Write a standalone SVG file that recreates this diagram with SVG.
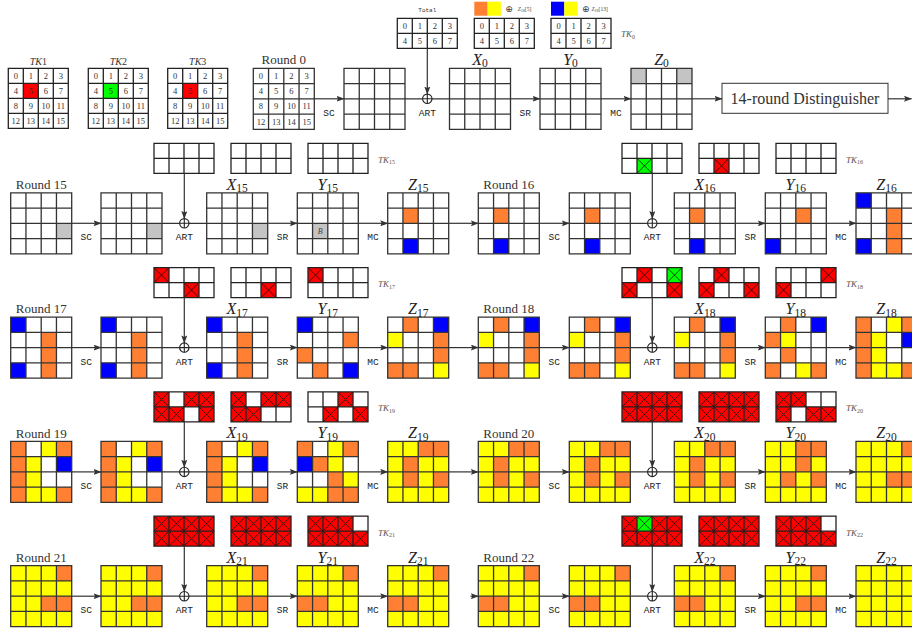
<svg xmlns="http://www.w3.org/2000/svg" width="912" height="630" viewBox="0 0 912 630">
<style>
.n{font-family:"Liberation Serif",serif;font-size:8.5px;fill:#333;text-anchor:middle}
.t{font-family:"Liberation Mono",monospace;font-size:9.5px;fill:#222;text-anchor:middle}
.rl{font-family:"Liberation Serif",serif;font-size:13px;fill:#333;text-anchor:middle}
.v{font-family:"Liberation Serif",serif;font-size:16px;font-style:italic;fill:#222;text-anchor:middle}
.v tspan{font-style:normal;font-size:11.5px}
.tk{font-family:"Liberation Serif",serif;font-size:9px;font-style:italic;fill:#555}
.tk tspan{font-style:normal;font-size:6px}
.tl{font-family:"Liberation Serif",serif;font-size:10px;fill:#333;text-anchor:middle}
.bl{font-family:"Liberation Serif",serif;font-size:8px;font-style:italic;fill:#444;text-anchor:middle}
.sm{font-family:"Liberation Serif",serif;font-size:5.5px;fill:#444}
.ln{fill:none;stroke:#333;stroke-width:1.2}
.ar{marker-end:url(#ah)}
</style>
<defs>
<marker id="ah" markerWidth="8" markerHeight="6" refX="7.5" refY="3" orient="auto" markerUnits="userSpaceOnUse"><path d="M0 0L8 3L0 6L1.5 3z" fill="#333"/></marker>
<rect id="O" width="15.25" height="15.25" fill="#FF8033"/>
<rect id="Y" width="15.25" height="15.25" fill="#FFFF00"/>
<rect id="B" width="15.25" height="15.25" fill="#0000FF"/>
<rect id="G" width="15.25" height="15.25" fill="#C4C4C4"/>
<rect id="BY" width="61" height="61" fill="#FFFF00"/>
<rect id="KW" width="15" height="15" fill="#fff"/>
<g id="KR"><rect width="15" height="15" fill="#FF0000"/><path d="M0 0L15 15M15 0L0 15" stroke="#111" stroke-width=".8"/></g>
<g id="KG"><rect width="15" height="15" fill="#00FF00"/><path d="M0 0L15 15M15 0L0 15" stroke="#111" stroke-width=".8"/></g>
<g id="KA"><rect width="60" height="30" fill="#FF0000"/><path d="M0 0L15 15M15 0L0 15M15 0L30 15M30 0L15 15M30 0L45 15M45 0L30 15M45 0L60 15M60 0L45 15M0 15L15 30M15 15L0 30M15 15L30 30M30 15L15 30M30 15L45 30M45 15L30 30M45 15L60 30M60 15L45 30" stroke="#111" stroke-width=".8"/></g>
<path id="g4" d="M0 0H61V61H0ZM15.25 0V61M30.5 0V61M45.75 0V61M0 15.25H61M0 30.5H61M0 45.75H61" fill="none" stroke="#333" stroke-width="1.3"/>
<path id="g60" d="M0 0H60V60H0ZM15 0V60M30 0V60M45 0V60M0 15H60M0 30H60M0 45H60" fill="none" stroke="#222" stroke-width="1.3"/>
<path id="gk" d="M0 0H60V30H0ZM15 0V30M30 0V30M45 0V30M0 15H60" fill="none" stroke="#222" stroke-width="1.3"/>
<g id="xor"><circle r="4.7" fill="#fff" stroke="#222" stroke-width="1.1"/><path d="M-4.7 0H4.7M0 -4.7V4.7" stroke="#222" stroke-width="1.1"/></g>
</defs>
<rect width="912" height="630" fill="#fff"/>

<!-- ROW 0 -->
<g id="tk1" transform="translate(8.3,68.3)"><rect x="15" y="15" width="15" height="15" fill="#FF0000"/><use href="#g60"/>
<text class="tl" x="30" y="-3.3"><tspan font-style="italic">TK</tspan>1</text>
<text class="n" x="7.5" y="10.5">0</text><text class="n" x="22.5" y="10.5">1</text><text class="n" x="37.5" y="10.5">2</text><text class="n" x="52.5" y="10.5">3</text>
<text class="n" x="7.5" y="25.5">4</text><text class="n" x="22.5" y="25.5">5</text><text class="n" x="37.5" y="25.5">6</text><text class="n" x="52.5" y="25.5">7</text>
<text class="n" x="7.5" y="40.5">8</text><text class="n" x="22.5" y="40.5">9</text><text class="n" x="37.5" y="40.5">10</text><text class="n" x="52.5" y="40.5">11</text>
<text class="n" x="7.5" y="55.5">12</text><text class="n" x="22.5" y="55.5">13</text><text class="n" x="37.5" y="55.5">14</text><text class="n" x="52.5" y="55.5">15</text></g>
<g id="tk2" transform="translate(88.3,68.3)"><rect x="15" y="15" width="15" height="15" fill="#00FF00"/><use href="#g60"/>
<text class="tl" x="30" y="-3.3"><tspan font-style="italic">TK</tspan>2</text>
<text class="n" x="7.5" y="10.5">0</text><text class="n" x="22.5" y="10.5">1</text><text class="n" x="37.5" y="10.5">2</text><text class="n" x="52.5" y="10.5">3</text>
<text class="n" x="7.5" y="25.5">4</text><text class="n" x="22.5" y="25.5">5</text><text class="n" x="37.5" y="25.5">6</text><text class="n" x="52.5" y="25.5">7</text>
<text class="n" x="7.5" y="40.5">8</text><text class="n" x="22.5" y="40.5">9</text><text class="n" x="37.5" y="40.5">10</text><text class="n" x="52.5" y="40.5">11</text>
<text class="n" x="7.5" y="55.5">12</text><text class="n" x="22.5" y="55.5">13</text><text class="n" x="37.5" y="55.5">14</text><text class="n" x="52.5" y="55.5">15</text></g>
<g id="tk3" transform="translate(167.7,68.3)"><rect x="15" y="15" width="15" height="15" fill="#FF0000"/><use href="#g60"/>
<text class="tl" x="30" y="-3.3"><tspan font-style="italic">TK</tspan>3</text>
<text class="n" x="7.5" y="10.5">0</text><text class="n" x="22.5" y="10.5">1</text><text class="n" x="37.5" y="10.5">2</text><text class="n" x="52.5" y="10.5">3</text>
<text class="n" x="7.5" y="25.5">4</text><text class="n" x="22.5" y="25.5">5</text><text class="n" x="37.5" y="25.5">6</text><text class="n" x="52.5" y="25.5">7</text>
<text class="n" x="7.5" y="40.5">8</text><text class="n" x="22.5" y="40.5">9</text><text class="n" x="37.5" y="40.5">10</text><text class="n" x="52.5" y="40.5">11</text>
<text class="n" x="7.5" y="55.5">12</text><text class="n" x="22.5" y="55.5">13</text><text class="n" x="37.5" y="55.5">14</text><text class="n" x="52.5" y="55.5">15</text></g>
<g id="r0" transform="translate(253.3,68.3)"><use href="#g4"/>
<text class="rl" x="30.5" y="-4">Round 0</text>
<text class="n" x="7.6" y="10.6">0</text><text class="n" x="22.9" y="10.6">1</text><text class="n" x="38.1" y="10.6">2</text><text class="n" x="53.4" y="10.6">3</text>
<text class="n" x="7.6" y="25.9">4</text><text class="n" x="22.9" y="25.9">5</text><text class="n" x="38.1" y="25.9">6</text><text class="n" x="53.4" y="25.9">7</text>
<text class="n" x="7.6" y="41.1">8</text><text class="n" x="22.9" y="41.1">9</text><text class="n" x="38.1" y="41.1">10</text><text class="n" x="53.4" y="41.1">11</text>
<text class="n" x="7.6" y="56.4">12</text><text class="n" x="22.9" y="56.4">13</text><text class="n" x="38.1" y="56.4">14</text><text class="n" x="53.4" y="56.4">15</text></g>
<g id="sc0" transform="translate(344,68.3)"><use href="#g4"/></g>
<g id="x0" transform="translate(449.5,68.3)"><use href="#g4"/><text class="v" x="30.5" y="-3.5">X<tspan dy="2.5">0</tspan></text></g>
<g id="y0" transform="translate(540,68.3)"><use href="#g4"/><text class="v" x="30.5" y="-3.5">Y<tspan dy="2.5">0</tspan></text></g>
<g id="z0" transform="translate(631,68.3)"><use href="#G" x="0" y="0"/><use href="#G" x="45.75" y="0"/><use href="#g4"/><text class="v" x="30.5" y="-3.5">Z<tspan dy="2.5">0</tspan></text></g>
<g id="ktotal" transform="translate(397.3,18.3)"><use href="#gk"/>
<text x="30" y="-6.5" font-family="Liberation Mono, monospace" font-size="6px" fill="#333" text-anchor="middle">Total</text>
<text class="n" x="7.5" y="10.5">0</text><text class="n" x="22.5" y="10.5">1</text><text class="n" x="37.5" y="10.5">2</text><text class="n" x="52.5" y="10.5">3</text>
<text class="n" x="7.5" y="25.5">4</text><text class="n" x="22.5" y="25.5">5</text><text class="n" x="37.5" y="25.5">6</text><text class="n" x="52.5" y="25.5">7</text></g>
<g id="k0b" transform="translate(474.3,18.3)"><use href="#gk"/>
<rect x="0" y="-16.6" width="13.3" height="14" fill="#FF8033"/><rect x="13.3" y="-16.6" width="13.3" height="14" fill="#FFFF00"/>
<text x="34.8" y="-6.3" font-family="DejaVu Sans, sans-serif" font-size="9px" fill="#333" text-anchor="middle">⊕</text>
<text class="sm" x="43.5" y="-7.5"><tspan font-style="italic">Z</tspan><tspan font-size="4px" dy="1">18</tspan><tspan dy="-1">[5]</tspan></text>
<text class="n" x="7.5" y="10.5">0</text><text class="n" x="22.5" y="10.5">1</text><text class="n" x="37.5" y="10.5">2</text><text class="n" x="52.5" y="10.5">3</text>
<text class="n" x="7.5" y="25.5">4</text><text class="n" x="22.5" y="25.5">5</text><text class="n" x="37.5" y="25.5">6</text><text class="n" x="52.5" y="25.5">7</text></g>
<g id="k0c" transform="translate(551,18.3)"><use href="#gk"/>
<rect x="0" y="-16.6" width="13.3" height="14" fill="#0000FF"/><rect x="13.3" y="-16.6" width="13.3" height="14" fill="#FFFF00"/>
<text x="34.8" y="-6.3" font-family="DejaVu Sans, sans-serif" font-size="9px" fill="#333" text-anchor="middle">⊕</text>
<text class="sm" x="40.5" y="-7.5"><tspan font-style="italic">Z</tspan><tspan font-size="4px" dy="1">18</tspan><tspan dy="-1">[13]</tspan></text>
<text class="n" x="7.5" y="10.5">0</text><text class="n" x="22.5" y="10.5">1</text><text class="n" x="37.5" y="10.5">2</text><text class="n" x="52.5" y="10.5">3</text>
<text class="n" x="7.5" y="25.5">4</text><text class="n" x="22.5" y="25.5">5</text><text class="n" x="37.5" y="25.5">6</text><text class="n" x="52.5" y="25.5">7</text></g>
<g id="tk0lbl"><text class="tk" x="621" y="37">TK<tspan dy="1.5">0</tspan></text></g>
<g id="dist"><rect x="722" y="83.3" width="166" height="30" fill="#fff" stroke="#333" stroke-width="1"/><text x="805" y="103.8" font-family="Liberation Serif, serif" font-size="16px" fill="#333" text-anchor="middle">14-round Distinguisher</text></g>

<!-- ROW 1 -->
<g id="k15a" transform="translate(154,143.3)"><use href="#gk"/></g>
<g id="k15b" transform="translate(231,143.3)"><use href="#gk"/></g>
<g id="k15c" transform="translate(308,143.3)"><use href="#gk"/></g>
<g id="tk15lbl"><text class="tk" x="378" y="162.8">TK<tspan dy="1.5">15</tspan></text></g>
<g id="k16a" transform="translate(622,143.3)"><use href="#KG" x="15" y="15"/><use href="#gk"/></g>
<g id="k16b" transform="translate(699,143.3)"><use href="#KR" x="15" y="15"/><use href="#gk"/></g>
<g id="k16c" transform="translate(776,143.3)"><use href="#gk"/></g>
<g id="tk16lbl"><text class="tk" x="846" y="162.8">TK<tspan dy="1.5">16</tspan></text></g>
<g id="r15" transform="translate(10.7,192.8)"><use href="#G" x="45.75" y="30.5"/><use href="#g4"/><text class="rl" x="30.5" y="-3.7">Round 15</text></g>
<g id="sc15" transform="translate(101,192.8)"><use href="#G" x="45.75" y="30.5"/><use href="#g4"/></g>
<g id="x15" transform="translate(206.7,192.8)"><use href="#G" x="45.75" y="30.5"/><use href="#g4"/><text class="v" x="30.5" y="-3">X<tspan dy="2.5">15</tspan></text></g>
<g id="y15" transform="translate(297.3,192.8)"><use href="#G" x="15.25" y="30.5"/><use href="#g4"/><text class="bl" x="22.9" y="41">B</text><text class="v" x="30.5" y="-3">Y<tspan dy="2.5">15</tspan></text></g>
<g id="z15" transform="translate(387.7,192.8)"><use href="#O" x="15.25" y="15.25"/><use href="#B" x="15.25" y="45.75"/><use href="#g4"/><text class="v" x="30.5" y="-3">Z<tspan dy="2.5">15</tspan></text></g>
<g id="r16" transform="translate(478.3,192.8)"><use href="#O" x="15.25" y="15.25"/><use href="#B" x="15.25" y="45.75"/><use href="#g4"/><text class="rl" x="30.5" y="-3.7">Round 16</text></g>
<g id="sc16" transform="translate(569.3,192.8)"><use href="#O" x="15.25" y="15.25"/><use href="#B" x="15.25" y="45.75"/><use href="#g4"/></g>
<g id="x16" transform="translate(674.3,192.8)"><use href="#O" x="15.25" y="15.25"/><use href="#B" x="15.25" y="45.75"/><use href="#g4"/><text class="v" x="30.5" y="-3">X<tspan dy="2.5">16</tspan></text></g>
<g id="y16" transform="translate(765.3,192.8)"><use href="#O" x="30.5" y="15.25"/><use href="#B" x="0" y="45.75"/><use href="#g4"/><text class="v" x="30.5" y="-3">Y<tspan dy="2.5">16</tspan></text></g>
<g id="z16" transform="translate(856,192.8)"><use href="#B" x="0" y="0"/><use href="#O" x="30.5" y="15.25"/><use href="#O" x="30.5" y="30.5"/><use href="#B" x="0" y="45.75"/><use href="#O" x="30.5" y="45.75"/><use href="#g4"/><text class="v" x="30.5" y="-3">Z<tspan dy="2.5">16</tspan></text></g>

<!-- ROW 2 -->
<g id="k17a" transform="translate(154,267.6)"><use href="#KR" x="0" y="0"/><use href="#KR" x="30" y="15"/><use href="#gk"/></g>
<g id="k17b" transform="translate(231,267.6)"><use href="#KR" x="30" y="15"/><use href="#gk"/></g>
<g id="k17c" transform="translate(308,267.6)"><use href="#KR" x="0" y="0"/><use href="#gk"/></g>
<g id="tk17lbl"><text class="tk" x="378" y="287.1">TK<tspan dy="1.5">17</tspan></text></g>
<g id="k18a" transform="translate(622,267.6)"><use href="#KR" x="15" y="0"/><use href="#KG" x="45" y="0"/><use href="#KR" x="0" y="15"/><use href="#KR" x="45" y="15"/><use href="#gk"/></g>
<g id="k18b" transform="translate(699,267.6)"><use href="#KR" x="15" y="0"/><use href="#KR" x="0" y="15"/><use href="#KR" x="45" y="15"/><use href="#gk"/></g>
<g id="k18c" transform="translate(776,267.6)"><use href="#KR" x="45" y="0"/><use href="#KR" x="0" y="15"/><use href="#gk"/></g>
<g id="tk18lbl"><text class="tk" x="846" y="287.1">TK<tspan dy="1.5">18</tspan></text></g>
<g id="r17" transform="translate(10.7,317.1)"><use href="#B" x="0" y="0"/><use href="#O" x="30.5" y="15.25"/><use href="#O" x="30.5" y="30.5"/><use href="#B" x="0" y="45.75"/><use href="#O" x="30.5" y="45.75"/><use href="#g4"/><text class="rl" x="30.5" y="-3.7">Round 17</text></g>
<g id="sc17" transform="translate(101,317.1)"><use href="#B" x="0" y="0"/><use href="#O" x="30.5" y="15.25"/><use href="#O" x="30.5" y="30.5"/><use href="#B" x="0" y="45.75"/><use href="#O" x="30.5" y="45.75"/><use href="#g4"/></g>
<g id="x17" transform="translate(206.7,317.1)"><use href="#B" x="0" y="0"/><use href="#O" x="30.5" y="15.25"/><use href="#O" x="30.5" y="30.5"/><use href="#B" x="0" y="45.75"/><use href="#O" x="30.5" y="45.75"/><use href="#g4"/><text class="v" x="30.5" y="-3">X<tspan dy="2.5">17</tspan></text></g>
<g id="y17" transform="translate(297.3,317.1)"><use href="#B" x="0" y="0"/><use href="#O" x="45.75" y="15.25"/><use href="#O" x="0" y="30.5"/><use href="#O" x="15.25" y="45.75"/><use href="#B" x="45.75" y="45.75"/><use href="#g4"/><text class="v" x="30.5" y="-3">Y<tspan dy="2.5">17</tspan></text></g>
<g id="z17" transform="translate(387.7,317.1)"><use href="#O" x="15.25" y="0"/><use href="#B" x="45.75" y="0"/><use href="#Y" x="0" y="15.25"/><use href="#O" x="45.75" y="15.25"/><use href="#O" x="45.75" y="30.5"/><use href="#O" x="0" y="45.75"/><use href="#O" x="15.25" y="45.75"/><use href="#Y" x="45.75" y="45.75"/><use href="#g4"/><text class="v" x="30.5" y="-3">Z<tspan dy="2.5">17</tspan></text></g>
<g id="r18" transform="translate(478.3,317.1)"><use href="#O" x="15.25" y="0"/><use href="#B" x="45.75" y="0"/><use href="#Y" x="0" y="15.25"/><use href="#O" x="45.75" y="15.25"/><use href="#O" x="45.75" y="30.5"/><use href="#O" x="0" y="45.75"/><use href="#O" x="15.25" y="45.75"/><use href="#Y" x="45.75" y="45.75"/><use href="#g4"/><text class="rl" x="30.5" y="-3.7">Round 18</text></g>
<g id="sc18" transform="translate(569.3,317.1)"><use href="#O" x="15.25" y="0"/><use href="#B" x="45.75" y="0"/><use href="#Y" x="0" y="15.25"/><use href="#O" x="45.75" y="15.25"/><use href="#O" x="45.75" y="30.5"/><use href="#O" x="0" y="45.75"/><use href="#O" x="15.25" y="45.75"/><use href="#Y" x="45.75" y="45.75"/><use href="#g4"/></g>
<g id="x18" transform="translate(674.3,317.1)"><use href="#O" x="15.25" y="0"/><use href="#B" x="45.75" y="0"/><use href="#Y" x="0" y="15.25"/><use href="#O" x="45.75" y="15.25"/><use href="#O" x="45.75" y="30.5"/><use href="#O" x="0" y="45.75"/><use href="#O" x="15.25" y="45.75"/><use href="#Y" x="45.75" y="45.75"/><use href="#g4"/><text class="v" x="30.5" y="-3">X<tspan dy="2.5">18</tspan></text></g>
<g id="y18" transform="translate(765.3,317.1)"><use href="#O" x="15.25" y="0"/><use href="#B" x="45.75" y="0"/><use href="#O" x="0" y="15.25"/><use href="#Y" x="15.25" y="15.25"/><use href="#O" x="15.25" y="30.5"/><use href="#O" x="0" y="45.75"/><use href="#Y" x="30.5" y="45.75"/><use href="#O" x="45.75" y="45.75"/><use href="#g4"/><text class="v" x="30.5" y="-3">Y<tspan dy="2.5">18</tspan></text></g>
<g id="z18" transform="translate(856,317.1)"><use href="#O" x="0" y="0"/><use href="#Y" x="30.5" y="0"/><use href="#O" x="45.75" y="0"/><use href="#O" x="0" y="15.25"/><use href="#Y" x="15.25" y="15.25"/><use href="#B" x="45.75" y="15.25"/><use href="#O" x="0" y="30.5"/><use href="#Y" x="15.25" y="30.5"/><use href="#O" x="0" y="45.75"/><use href="#Y" x="15.25" y="45.75"/><use href="#Y" x="30.5" y="45.75"/><use href="#O" x="45.75" y="45.75"/><use href="#g4"/><text class="v" x="30.5" y="-3">Z<tspan dy="2.5">18</tspan></text></g>

<!-- ROW 3 -->
<g id="k19a" transform="translate(154,391.9)"><use href="#KR" x="0" y="0"/><use href="#KR" x="30" y="0"/><use href="#KR" x="45" y="0"/><use href="#KR" x="0" y="15"/><use href="#KR" x="15" y="15"/><use href="#KR" x="45" y="15"/><use href="#gk"/></g>
<g id="k19b" transform="translate(231,391.9)"><use href="#KR" x="0" y="0"/><use href="#KR" x="30" y="0"/><use href="#KR" x="45" y="0"/><use href="#KR" x="0" y="15"/><use href="#KR" x="15" y="15"/><use href="#gk"/></g>
<g id="k19c" transform="translate(308,391.9)"><use href="#KR" x="30" y="0"/><use href="#KR" x="15" y="15"/><use href="#KR" x="45" y="15"/><use href="#gk"/></g>
<g id="tk19lbl"><text class="tk" x="378" y="411.4">TK<tspan dy="1.5">19</tspan></text></g>
<g id="k20a" transform="translate(622,391.9)"><use href="#KA"/><use href="#gk"/></g>
<g id="k20b" transform="translate(699,391.9)"><use href="#KA"/><use href="#gk"/></g>
<g id="k20c" transform="translate(776,391.9)"><use href="#KA"/><use href="#KW" x="30" y="0"/><use href="#KW" x="45" y="0"/><use href="#KW" x="15" y="15"/><use href="#gk"/></g>
<g id="tk20lbl"><text class="tk" x="846" y="411.4">TK<tspan dy="1.5">20</tspan></text></g>
<g id="r19" transform="translate(10.7,441.4)"><use href="#O" x="0" y="0"/><use href="#Y" x="30.5" y="0"/><use href="#O" x="45.75" y="0"/><use href="#O" x="0" y="15.25"/><use href="#Y" x="15.25" y="15.25"/><use href="#B" x="45.75" y="15.25"/><use href="#O" x="0" y="30.5"/><use href="#Y" x="15.25" y="30.5"/><use href="#O" x="0" y="45.75"/><use href="#Y" x="15.25" y="45.75"/><use href="#Y" x="30.5" y="45.75"/><use href="#O" x="45.75" y="45.75"/><use href="#g4"/><text class="rl" x="30.5" y="-3.7">Round 19</text></g>
<g id="sc19" transform="translate(101,441.4)"><use href="#O" x="0" y="0"/><use href="#Y" x="30.5" y="0"/><use href="#O" x="45.75" y="0"/><use href="#O" x="0" y="15.25"/><use href="#Y" x="15.25" y="15.25"/><use href="#B" x="45.75" y="15.25"/><use href="#O" x="0" y="30.5"/><use href="#Y" x="15.25" y="30.5"/><use href="#O" x="0" y="45.75"/><use href="#Y" x="15.25" y="45.75"/><use href="#Y" x="30.5" y="45.75"/><use href="#O" x="45.75" y="45.75"/><use href="#g4"/></g>
<g id="x19" transform="translate(206.7,441.4)"><use href="#O" x="0" y="0"/><use href="#Y" x="30.5" y="0"/><use href="#O" x="45.75" y="0"/><use href="#O" x="0" y="15.25"/><use href="#Y" x="15.25" y="15.25"/><use href="#B" x="45.75" y="15.25"/><use href="#O" x="0" y="30.5"/><use href="#Y" x="15.25" y="30.5"/><use href="#O" x="0" y="45.75"/><use href="#Y" x="15.25" y="45.75"/><use href="#Y" x="30.5" y="45.75"/><use href="#O" x="45.75" y="45.75"/><use href="#g4"/><text class="v" x="30.5" y="-3">X<tspan dy="2.5">19</tspan></text></g>
<g id="y19" transform="translate(297.3,441.4)"><use href="#O" x="0" y="0"/><use href="#Y" x="30.5" y="0"/><use href="#O" x="45.75" y="0"/><use href="#B" x="0" y="15.25"/><use href="#O" x="15.25" y="15.25"/><use href="#Y" x="30.5" y="15.25"/><use href="#O" x="30.5" y="30.5"/><use href="#Y" x="45.75" y="30.5"/><use href="#Y" x="0" y="45.75"/><use href="#Y" x="15.25" y="45.75"/><use href="#O" x="30.5" y="45.75"/><use href="#O" x="45.75" y="45.75"/><use href="#g4"/><text class="v" x="30.5" y="-3">Y<tspan dy="2.5">19</tspan></text></g>
<g id="z19" transform="translate(387.7,441.4)"><use href="#BY"/><use href="#O" x="30.5" y="0"/><use href="#O" x="45.75" y="0"/><use href="#O" x="15.25" y="15.25"/><use href="#O" x="15.25" y="30.5"/><use href="#O" x="45.75" y="30.5"/><use href="#g4"/><text class="v" x="30.5" y="-3">Z<tspan dy="2.5">19</tspan></text></g>
<g id="r20" transform="translate(478.3,441.4)"><use href="#BY"/><use href="#O" x="30.5" y="0"/><use href="#O" x="45.75" y="0"/><use href="#O" x="15.25" y="15.25"/><use href="#O" x="15.25" y="30.5"/><use href="#O" x="45.75" y="30.5"/><use href="#g4"/><text class="rl" x="30.5" y="-3.7">Round 20</text></g>
<g id="sc20" transform="translate(569.3,441.4)"><use href="#BY"/><use href="#O" x="30.5" y="0"/><use href="#O" x="45.75" y="0"/><use href="#O" x="15.25" y="15.25"/><use href="#O" x="15.25" y="30.5"/><use href="#O" x="45.75" y="30.5"/><use href="#g4"/></g>
<g id="x20" transform="translate(674.3,441.4)"><use href="#BY"/><use href="#O" x="30.5" y="0"/><use href="#O" x="45.75" y="0"/><use href="#O" x="15.25" y="15.25"/><use href="#O" x="15.25" y="30.5"/><use href="#O" x="45.75" y="30.5"/><use href="#g4"/><text class="v" x="30.5" y="-3">X<tspan dy="2.5">20</tspan></text></g>
<g id="y20" transform="translate(765.3,441.4)"><use href="#BY"/><use href="#O" x="30.5" y="0"/><use href="#O" x="45.75" y="0"/><use href="#O" x="30.5" y="15.25"/><use href="#O" x="15.25" y="30.5"/><use href="#O" x="45.75" y="30.5"/><use href="#g4"/><text class="v" x="30.5" y="-3">Y<tspan dy="2.5">20</tspan></text></g>
<g id="z20" transform="translate(856,441.4)"><use href="#BY"/><use href="#O" x="45.75" y="0"/><use href="#O" x="30.5" y="30.5"/><use href="#O" x="45.75" y="30.5"/><use href="#g4"/><text class="v" x="30.5" y="-3">Z<tspan dy="2.5">20</tspan></text></g>

<!-- ROW 4 -->
<g id="k21a" transform="translate(154,516.2)"><use href="#KA"/><use href="#gk"/></g>
<g id="k21b" transform="translate(231,516.2)"><use href="#KA"/><use href="#gk"/></g>
<g id="k21c" transform="translate(308,516.2)"><use href="#KA"/><use href="#KW" x="45" y="0"/><use href="#gk"/></g>
<g id="tk21lbl"><text class="tk" x="378" y="535.7">TK<tspan dy="1.5">21</tspan></text></g>
<g id="k22a" transform="translate(622,516.2)"><use href="#KA"/><use href="#KG" x="15" y="0"/><use href="#gk"/></g>
<g id="k22b" transform="translate(699,516.2)"><use href="#KA"/><use href="#gk"/></g>
<g id="k22c" transform="translate(776,516.2)"><use href="#KA"/><use href="#KW" x="45" y="0"/><use href="#gk"/></g>
<g id="tk22lbl"><text class="tk" x="846" y="535.7">TK<tspan dy="1.5">22</tspan></text></g>
<g id="r21" transform="translate(10.7,565.7)"><use href="#BY"/><use href="#O" x="45.75" y="0"/><use href="#O" x="30.5" y="30.5"/><use href="#O" x="45.75" y="30.5"/><use href="#g4"/><text class="rl" x="30.5" y="-3.7">Round 21</text></g>
<g id="sc21" transform="translate(101,565.7)"><use href="#BY"/><use href="#O" x="45.75" y="0"/><use href="#O" x="30.5" y="30.5"/><use href="#O" x="45.75" y="30.5"/><use href="#g4"/></g>
<g id="x21" transform="translate(206.7,565.7)"><use href="#BY"/><use href="#O" x="45.75" y="0"/><use href="#O" x="30.5" y="30.5"/><use href="#O" x="45.75" y="30.5"/><use href="#g4"/><text class="v" x="30.5" y="-3">X<tspan dy="2.5">21</tspan></text></g>
<g id="y21" transform="translate(297.3,565.7)"><use href="#BY"/><use href="#O" x="45.75" y="0"/><use href="#O" x="0" y="30.5"/><use href="#O" x="15.25" y="30.5"/><use href="#g4"/><text class="v" x="30.5" y="-3">Y<tspan dy="2.5">21</tspan></text></g>
<g id="z21" transform="translate(387.7,565.7)"><use href="#BY"/><use href="#O" x="45.75" y="0"/><use href="#O" x="0" y="30.5"/><use href="#O" x="15.25" y="30.5"/><use href="#g4"/><text class="v" x="30.5" y="-3">Z<tspan dy="2.5">21</tspan></text></g>
<g id="r22" transform="translate(478.3,565.7)"><use href="#BY"/><use href="#O" x="45.75" y="0"/><use href="#O" x="0" y="30.5"/><use href="#O" x="15.25" y="30.5"/><use href="#g4"/><text class="rl" x="30.5" y="-3.7">Round 22</text></g>
<g id="sc22" transform="translate(569.3,565.7)"><use href="#BY"/><use href="#O" x="45.75" y="0"/><use href="#O" x="0" y="30.5"/><use href="#O" x="15.25" y="30.5"/><use href="#g4"/></g>
<g id="x22" transform="translate(674.3,565.7)"><use href="#BY"/><use href="#O" x="45.75" y="0"/><use href="#O" x="0" y="30.5"/><use href="#O" x="15.25" y="30.5"/><use href="#g4"/><text class="v" x="30.5" y="-3">X<tspan dy="2.5">22</tspan></text></g>
<g id="y22" transform="translate(765.3,565.7)"><use href="#BY"/><use href="#O" x="45.75" y="0"/><use href="#O" x="30.5" y="30.5"/><use href="#O" x="45.75" y="30.5"/><use href="#g4"/><text class="v" x="30.5" y="-3">Y<tspan dy="2.5">22</tspan></text></g>
<g id="z22" transform="translate(856,565.7)"><use href="#BY"/><use href="#g4"/><text class="v" x="30.5" y="-3">Z<tspan dy="2.5">22</tspan></text></g>

<!-- CONNECTORS -->
<g id="connectors">
<g class="ln">
<path class="ar" d="M314.3 98.8H344"/><path d="M405 98.8H449.5"/><path class="ar" d="M427.3 48.3V94.1"/><path class="ar" d="M510.5 98.8H540"/><path class="ar" d="M601 98.8H631"/><path class="ar" d="M692 98.8H722"/><path class="ar" d="M888 98.8H911.5"/>

<path class="ar" d="M71.7 223.3H101"/><path d="M162 223.3H206.7"/><path class="ar" d="M184.3 173.3V218.6"/><path class="ar" d="M267.7 223.3H297.3"/><path class="ar" d="M358.3 223.3H387.7"/><path class="ar" d="M448.7 223.3H478.3"/>
<path class="ar" d="M539.3 223.3H569.3"/><path d="M630.3 223.3H674.3"/><path class="ar" d="M652.3 173.3V218.6"/><path class="ar" d="M735.3 223.3H765.3"/><path class="ar" d="M826.3 223.3H856"/>

<path class="ar" d="M71.7 347.6H101"/><path d="M162 347.6H206.7"/><path class="ar" d="M184.3 297.6V342.9"/><path class="ar" d="M267.7 347.6H297.3"/><path class="ar" d="M358.3 347.6H387.7"/><path class="ar" d="M448.7 347.6H478.3"/>
<path class="ar" d="M539.3 347.6H569.3"/><path d="M630.3 347.6H674.3"/><path class="ar" d="M652.3 297.6V342.9"/><path class="ar" d="M735.3 347.6H765.3"/><path class="ar" d="M826.3 347.6H856"/>

<path class="ar" d="M71.7 471.9H101"/><path d="M162 471.9H206.7"/><path class="ar" d="M184.3 421.9V467.2"/><path class="ar" d="M267.7 471.9H297.3"/><path class="ar" d="M358.3 471.9H387.7"/><path class="ar" d="M448.7 471.9H478.3"/>
<path class="ar" d="M539.3 471.9H569.3"/><path d="M630.3 471.9H674.3"/><path class="ar" d="M652.3 421.9V467.2"/><path class="ar" d="M735.3 471.9H765.3"/><path class="ar" d="M826.3 471.9H856"/>

<path class="ar" d="M71.7 596.2H101"/><path d="M162 596.2H206.7"/><path class="ar" d="M184.3 546.2V591.5"/><path class="ar" d="M267.7 596.2H297.3"/><path class="ar" d="M358.3 596.2H387.7"/><path class="ar" d="M470.5 596.2H478.3"/>
<path class="ar" d="M539.3 596.2H569.3"/><path d="M630.3 596.2H674.3"/><path class="ar" d="M652.3 546.2V591.5"/><path class="ar" d="M735.3 596.2H765.3"/><path class="ar" d="M826.3 596.2H856"/>
</g>
<use href="#xor" x="427.3" y="98.8"/>
<use href="#xor" x="184.3" y="223.3"/><use href="#xor" x="652.3" y="223.3"/>
<use href="#xor" x="184.3" y="347.6"/><use href="#xor" x="652.3" y="347.6"/>
<use href="#xor" x="184.3" y="471.9"/><use href="#xor" x="652.3" y="471.9"/>
<use href="#xor" x="184.3" y="596.2"/><use href="#xor" x="652.3" y="596.2"/>
<g id="oplabels">
<text class="t" x="329" y="116.3">SC</text><text class="t" x="427.3" y="116.3">ART</text><text class="t" x="525.3" y="116.3">SR</text><text class="t" x="616" y="116.3">MC</text>
<text class="t" x="86.3" y="240.3">SC</text><text class="t" x="184.3" y="240.3">ART</text><text class="t" x="282.5" y="240.3">SR</text><text class="t" x="373" y="240.3">MC</text><text class="t" x="554.3" y="240.3">SC</text><text class="t" x="652.3" y="240.3">ART</text><text class="t" x="750.3" y="240.3">SR</text><text class="t" x="841" y="240.3">MC</text>
<text class="t" x="86.3" y="364.6">SC</text><text class="t" x="184.3" y="364.6">ART</text><text class="t" x="282.5" y="364.6">SR</text><text class="t" x="373" y="364.6">MC</text><text class="t" x="554.3" y="364.6">SC</text><text class="t" x="652.3" y="364.6">ART</text><text class="t" x="750.3" y="364.6">SR</text><text class="t" x="841" y="364.6">MC</text>
<text class="t" x="86.3" y="488.9">SC</text><text class="t" x="184.3" y="488.9">ART</text><text class="t" x="282.5" y="488.9">SR</text><text class="t" x="373" y="488.9">MC</text><text class="t" x="554.3" y="488.9">SC</text><text class="t" x="652.3" y="488.9">ART</text><text class="t" x="750.3" y="488.9">SR</text><text class="t" x="841" y="488.9">MC</text>
<text class="t" x="86.3" y="613.2">SC</text><text class="t" x="184.3" y="613.2">ART</text><text class="t" x="282.5" y="613.2">SR</text><text class="t" x="373" y="613.2">MC</text><text class="t" x="554.3" y="613.2">SC</text><text class="t" x="652.3" y="613.2">ART</text><text class="t" x="750.3" y="613.2">SR</text><text class="t" x="841" y="613.2">MC</text>
</g>
</g>
</svg>
